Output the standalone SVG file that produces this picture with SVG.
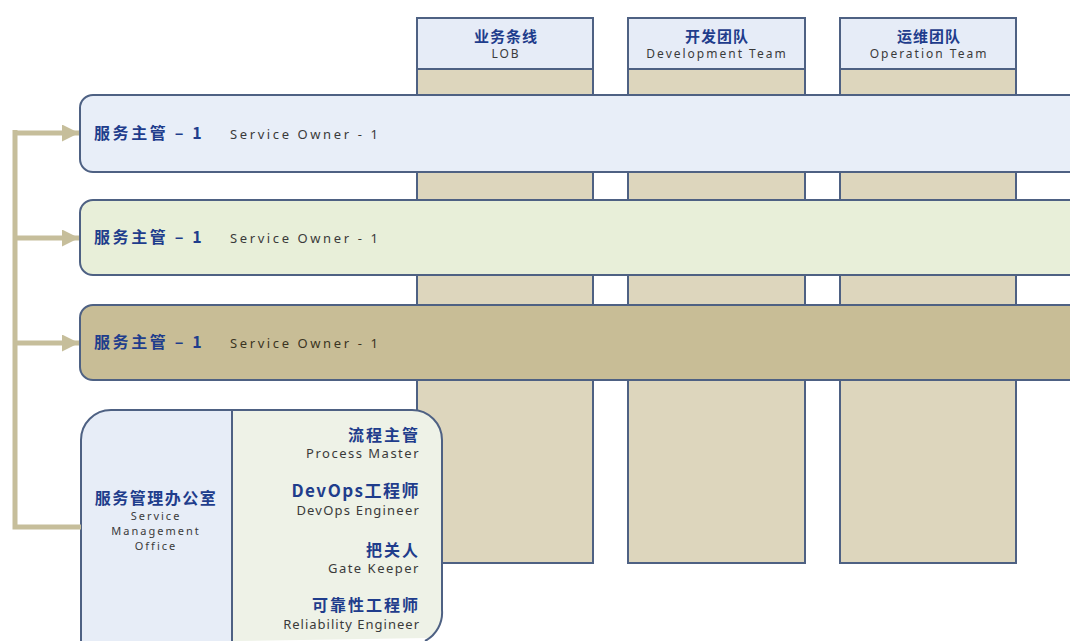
<svg xmlns="http://www.w3.org/2000/svg" width="1070" height="641" viewBox="0 0 1070 641">
<defs>
<style>
.stk{stroke:#4e6183;stroke-width:2}
.col{fill:#ddd6bd}
.hdr{fill:#e6ecf7}
.cn{font-family:"Noto Sans CJK SC","Noto Sans",sans-serif;font-weight:bold;fill:#1f3d8c;font-size:16px;letter-spacing:2px}
.en{font-family:"Noto Sans","Noto Sans CJK SC",sans-serif;fill:#3a3a3a;font-size:12px;letter-spacing:2px}
.ro{font-family:"Noto Sans","Noto Sans CJK SC",sans-serif;fill:#3a3a3a;font-size:13px;letter-spacing:2.6px}
.conn{fill:none;stroke:#c6be9b;stroke-width:5}
</style>
<marker id="ah" viewBox="0 0 10 10" refX="10" refY="5" markerWidth="4" markerHeight="3.4" markerUnits="strokeWidth" orient="auto">
<path d="M0,0 L10,5 L0,10 Z" fill="#c6be9b"/>
</marker>
</defs>
<rect width="1070" height="641" fill="#ffffff"/>
<g id="col-lob">
<rect x="417" y="69" width="176" height="494" class="col stk"/>
<rect x="417" y="18" width="176" height="51" class="hdr stk"/>
<text x="506" y="42" text-anchor="middle" class="cn" style="font-size:15px;letter-spacing:1px">业务条线</text>
<text x="506" y="58" text-anchor="middle" class="en">LOB</text>
</g>
<g id="col-dev">
<rect x="628" y="69" width="177" height="494" class="col stk"/>
<rect x="628" y="18" width="177" height="51" class="hdr stk"/>
<text x="717" y="42" text-anchor="middle" class="cn" style="font-size:15px;letter-spacing:1px">开发团队</text>
<text x="717" y="58" text-anchor="middle" class="en">Development Team</text>
</g>
<g id="col-ops">
<rect x="840" y="69" width="176" height="494" class="col stk"/>
<rect x="840" y="18" width="176" height="51" class="hdr stk"/>
<text x="929" y="42" text-anchor="middle" class="cn" style="font-size:15px;letter-spacing:1px">运维团队</text>
<text x="929" y="58" text-anchor="middle" class="en">Operation Team</text>
</g>
<g id="row1">
<rect x="80" y="95" width="1010" height="77" rx="13" fill="#e8eef8" class="stk"/>
<text x="94" y="139" class="cn" style="letter-spacing:2.6px">服务主管 – 1</text>
<text x="230" y="139" class="ro">Service Owner - 1</text>
</g>
<g id="row2">
<rect x="80" y="200" width="1010" height="75" rx="13" fill="#e8efd9" class="stk"/>
<text x="94" y="243" class="cn" style="letter-spacing:2.6px">服务主管 – 1</text>
<text x="230" y="243" class="ro">Service Owner - 1</text>
</g>
<g id="row3">
<rect x="80" y="305" width="1010" height="75" rx="13" fill="#c8bd96" class="stk"/>
<text x="94" y="348" class="cn" style="letter-spacing:2.6px">服务主管 – 1</text>
<text x="230" y="348" class="ro" style="fill:#3a3422">Service Owner - 1</text>
</g>
<g id="smo">
<path d="M111,410 H232 V641 H81 V440 A30,30 0 0 1 111,410 Z" fill="#e7edf7"/>
<path d="M232,410 H412 A30,30 0 0 1 442,440 V612 A30,30 0 0 1 428,638 L232,641 Z" fill="#eef2e7"/>
<path d="M81,641 V440 A30,30 0 0 1 111,410 H412 A30,30 0 0 1 442,440 V610 A32,32 0 0 1 425,641" fill="none" class="stk"/>
<line x1="232" y1="410" x2="232" y2="641" class="stk"/>
<text x="156" y="504" text-anchor="middle" class="cn" style="font-size:16px;letter-spacing:1.5px">服务管理办公室</text>
<text x="156" y="520" text-anchor="middle" class="en" style="font-size:11px">Service</text>
<text x="156" y="535" text-anchor="middle" class="en" style="font-size:11px">Management</text>
<text x="156" y="550" text-anchor="middle" class="en" style="font-size:11px">Office</text>
<text x="420" y="441" text-anchor="end" class="cn">流程主管</text>
<text x="420" y="458" text-anchor="end" class="ro" style="letter-spacing:1.5px">Process Master</text>
<text x="420" y="497" text-anchor="end" class="cn" style="font-size:17px;letter-spacing:1.5px">DevOps工程师</text>
<text x="420" y="515" text-anchor="end" class="ro" style="letter-spacing:1.2px">DevOps Engineer</text>
<text x="420" y="556" text-anchor="end" class="cn">把关人</text>
<text x="420" y="573" text-anchor="end" class="ro" style="letter-spacing:1.5px">Gate Keeper</text>
<text x="420" y="611" text-anchor="end" class="cn">可靠性工程师</text>
<text x="420" y="629" text-anchor="end" class="ro" style="letter-spacing:1px">Reliability Engineer</text>
</g>
<g id="connectors">
<path d="M15,130 V527 H81" class="conn"/>
<line x1="13" y1="133" x2="79" y2="133" class="conn" marker-end="url(#ah)"/>
<line x1="13" y1="238" x2="79" y2="238" class="conn" marker-end="url(#ah)"/>
<line x1="13" y1="343" x2="79" y2="343" class="conn" marker-end="url(#ah)"/>
</g>
</svg>
